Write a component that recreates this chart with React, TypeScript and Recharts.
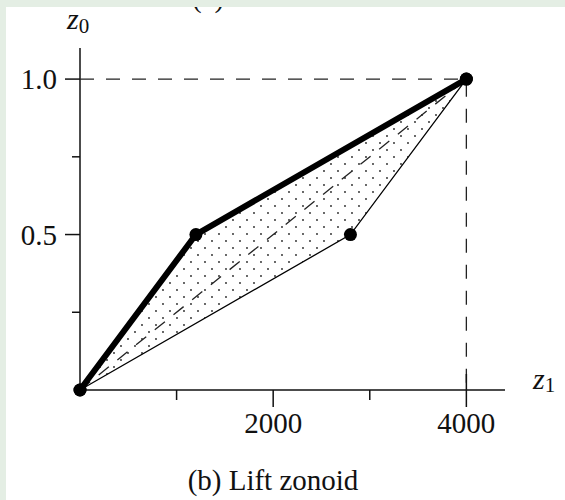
import React from 'react';
import { ScatterChart, Scatter, XAxis, YAxis } from 'recharts';

// ─── Data ───────────────────────────────────────────────────────────────────
const xTicks = [1000, 2000, 3000, 4000];
const xTickLabels = ['', '2000', '', '4000'];
const yTicks = [0.25, 0.5, 0.75, 1];
const yTickLabels = ['', '0.5', '', '1.0'];

// upper boundary of the zonoid (thick line)
const upperZ1 = [0, 1200, 4000];
const upperZ0 = [0, 0.5, 1];
// lower boundary of the zonoid (thin line)
const lowerZ1 = [0, 2800, 4000];
const lowerZ0 = [0, 0.5, 1];
// diagonal (dashed)
const diagZ1 = [0, 4000];
const diagZ0 = [0, 1];
// guide lines to the corner (dashed)
const guideZ1 = [0, 4000, 4000];
const guideZ0 = [1, 1, 0];

const zip = (xs: number[], ys: number[]) => xs.map((x, i) => ({ x, y: ys[i] }));

const upperData = zip(upperZ1, upperZ0);
const lowerData = zip(lowerZ1, lowerZ0);
const diagData = zip(diagZ1, diagZ0);
const guideData = zip(guideZ1, guideZ0);
// polygon: along the upper boundary, then back along the lower one
const zonoidData = [...upperData, ...lowerData.slice(1, -1).reverse()];

const FONT = '"Liberation Serif", "Times New Roman", serif';
const INK = '#111';

const XTick = (props: any) => {
  const { x, y, payload } = props;
  const i = xTicks.indexOf(payload.value);
  const label = xTickLabels[i];
  const major = label !== '';
  const top = payload.value === 4000 ? y - 16 : y;
  return (
    <g>
      <line x1={x} x2={x} y1={top} y2={y + (major ? 17 : 10)} stroke={INK} strokeWidth={1.5} />
      {label && (
        <text x={x} y={y + 43} textAnchor="middle" fontFamily={FONT} fontSize={29} fill={INK}>
          {label}
        </text>
      )}
    </g>
  );
};

const YTick = (props: any) => {
  const { x, y, payload } = props;
  const i = yTicks.indexOf(payload.value);
  const label = yTickLabels[i];
  const major = label !== '';
  return (
    <g>
      <line x1={x - (major ? 15 : 8)} x2={x} y1={y} y2={y} stroke={INK} strokeWidth={1.5} />
      {label && (
        <text x={x - 23} y={y + 10} textAnchor="end" fontFamily={FONT} fontSize={29} fill={INK}>
          {label}
        </text>
      )}
    </g>
  );
};

const Dot = (props: any) => <circle cx={props.cx} cy={props.cy} r={6.5} fill="#000" />;
const NoDot = () => <g />;

export default function App() {
  return (
    <div style={{ position: 'absolute', left: 0, top: 0, width: 565, height: 500, background: '#e4eee4' }}>
      <div
        style={{
          position: 'absolute',
          left: 6,
          top: 7,
          width: 559,
          height: 493,
          background: '#fff',
          overflow: 'hidden',
        }}
      >
        <ScatterChart width={559} height={493} margin={{ top: 41, right: 60, bottom: 0, left: 0 }}>
          <defs>
            <pattern id="zonoidDots" width="14" height="14" patternUnits="userSpaceOnUse">
              <circle cx="3" cy="3" r="0.9" fill="#222" />
              <circle cx="10" cy="10" r="0.9" fill="#222" />
            </pattern>
          </defs>
          <XAxis
            type="number"
            dataKey="x"
            domain={[0, 4400]}
            ticks={xTicks}
            interval={0}
            height={110}
            tickSize={0}
            tickMargin={0}
            tickLine={false}
            tick={<XTick />}
            axisLine={{ stroke: INK, strokeWidth: 1.5 }}
          />
          <YAxis
            type="number"
            dataKey="y"
            domain={[0, 1.1]}
            ticks={yTicks}
            interval={0}
            width={74}
            tickSize={0}
            tickMargin={0}
            tickLine={false}
            tick={<YTick />}
            axisLine={{ stroke: INK, strokeWidth: 1.5 }}
          />
          <Scatter
            data={zonoidData}
            shape={NoDot}
            line={{ fill: 'url(#zonoidDots)', stroke: 'none' }}
            lineType="joint"
            isAnimationActive={false}
          />
          <Scatter
            data={diagData}
            shape={NoDot}
            line={{ stroke: '#222', strokeWidth: 1.3, strokeDasharray: '13 11' }}
            isAnimationActive={false}
          />
          <Scatter
            data={guideData}
            shape={NoDot}
            line={{ stroke: '#222', strokeWidth: 1.3, strokeDasharray: '14 12' }}
            isAnimationActive={false}
          />
          <Scatter
            data={lowerData}
            shape={Dot}
            line={{ stroke: '#000', strokeWidth: 1.3 }}
            isAnimationActive={false}
          />
          <Scatter
            data={upperData}
            shape={Dot}
            line={{ stroke: '#000', strokeWidth: 6, strokeLinejoin: 'round' }}
            isAnimationActive={false}
          />
        </ScatterChart>
        {/* bottom of the previous caption, cut by the frame */}
        <svg
          width={559}
          height={30}
          style={{ position: 'absolute', left: 0, top: 0, pointerEvents: 'none' }}
          fontFamily={FONT}
          fill={INK}
        >
          <text x={202} y={0} textAnchor="middle" fontSize={29}>
            (a)
          </text>
        </svg>
      </div>
      <svg
        width={565}
        height={500}
        style={{ position: 'absolute', left: 0, top: 0, pointerEvents: 'none' }}
        fontFamily={FONT}
        fill={INK}
      >
        <text x={67} y={29} fontSize={30}>
          <tspan fontStyle="italic">z</tspan>
          <tspan fontSize={21} dy={4}>0</tspan>
        </text>
        <text x={533} y={389} fontSize={30}>
          <tspan fontStyle="italic">z</tspan>
          <tspan fontSize={21} dy={3}>1</tspan>
        </text>
        <text x={273} y={490} textAnchor="middle" fontSize={29}>
          (b) Lift zonoid
        </text>
      </svg>
    </div>
  );
}
